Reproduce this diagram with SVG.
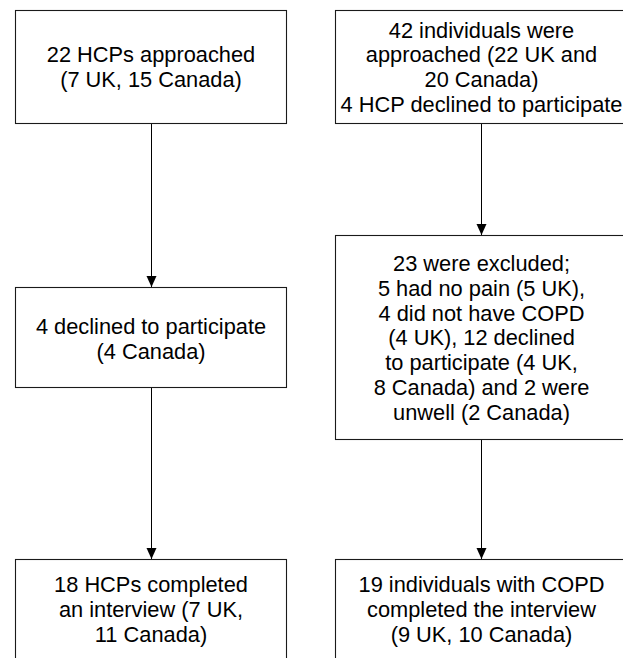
<svg xmlns="http://www.w3.org/2000/svg" width="623" height="658" viewBox="0 0 623 658">
<style>
.box{fill:#fff;stroke:#1a1a1a;stroke-width:1.1}
.t{font-family:"Liberation Sans",Arial,sans-serif;font-size:21.8px;fill:#000;text-anchor:middle}
.c{stroke:#000;stroke-width:1;fill:none}
</style>
<defs>
<marker id="ah" markerUnits="userSpaceOnUse" markerWidth="12" markerHeight="12" viewBox="0 0 12 12" refX="11" refY="6" orient="auto">
<path d="M0,1 L11,6 L0,11 Z" fill="#000"/>
</marker>
</defs>
<rect width="623" height="658" fill="#fff"/>
<g id="connectors">
<line class="c" x1="151.5" y1="123.5" x2="151.5" y2="287" marker-end="url(#ah)"/>
<line class="c" x1="151.5" y1="387.5" x2="151.5" y2="559" marker-end="url(#ah)"/>
<line class="c" x1="481.5" y1="123.5" x2="481.5" y2="235" marker-end="url(#ah)"/>
<line class="c" x1="481.5" y1="439.5" x2="481.5" y2="559" marker-end="url(#ah)"/>
</g>
<g id="n1">
<rect class="box" x="15.5" y="10.5" width="271" height="113"/>
<text class="t" x="151" y="62">22 HCPs approached</text>
<text class="t" x="151" y="87">(7 UK, 15 Canada)</text>
</g>
<g id="n2">
<rect class="box" x="335.5" y="10.5" width="292" height="113"/>
<text class="t" x="481.5" y="37.5">42 individuals were</text>
<text class="t" x="481.5" y="62.2">approached (22 UK and</text>
<text class="t" x="481.5" y="86.9">20 Canada)</text>
<text class="t" x="481.5" y="111.6">4 HCP declined to participate</text>
</g>
<g id="n3">
<rect class="box" x="15.5" y="287.5" width="271" height="100"/>
<text class="t" x="151" y="334">4 declined to participate</text>
<text class="t" x="151" y="359">(4 Canada)</text>
</g>
<g id="n4">
<rect class="box" x="335.5" y="235.5" width="292" height="204"/>
<text class="t" x="481.5" y="271.3">23 were excluded;</text>
<text class="t" x="481.5" y="296">5 had no pain (5 UK),</text>
<text class="t" x="481.5" y="320.7">4 did not have COPD</text>
<text class="t" x="481.5" y="345.4">(4 UK), 12 declined</text>
<text class="t" x="481.5" y="370.1">to participate (4 UK,</text>
<text class="t" x="481.5" y="394.8">8 Canada) and 2 were</text>
<text class="t" x="481.5" y="419.5">unwell (2 Canada)</text>
</g>
<g id="n5">
<rect class="box" x="15.5" y="559.5" width="271" height="100"/>
<text class="t" x="151" y="592">18 HCPs completed</text>
<text class="t" x="151" y="617">an interview (7 UK,</text>
<text class="t" x="151" y="642">11 Canada)</text>
</g>
<g id="n6">
<rect class="box" x="335.5" y="559.5" width="292" height="100"/>
<text class="t" x="481.5" y="592">19 individuals with COPD</text>
<text class="t" x="481.5" y="617">completed the interview</text>
<text class="t" x="481.5" y="642">(9 UK, 10 Canada)</text>
</g>
</svg>
